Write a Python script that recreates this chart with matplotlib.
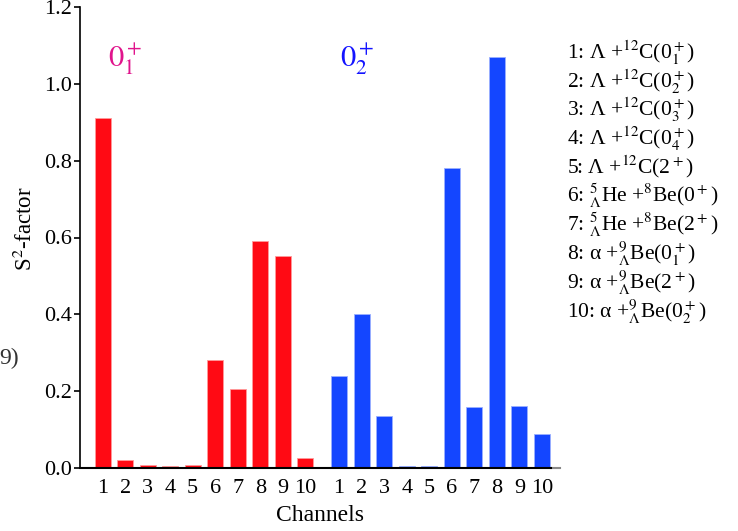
import numpy as np
import matplotlib
matplotlib.use('Agg')
import matplotlib.pyplot as plt

plt.rcParams['font.family'] = ['Liberation Serif', 'DejaVu Serif']
plt.rcParams['mathtext.fontset'] = 'stix'

channels = [str(i) for i in range(1, 11)]
s2_01 = [0.91, 0.021, 0.009, 0.006, 0.007, 0.28, 0.205, 0.59, 0.552, 0.026]
s2_02 = [0.239, 0.40, 0.136, 0.006, 0.006, 0.78, 0.158, 1.07, 0.161, 0.089]
legend_lines = [
    r'1: Λ +$^{12}$C(0$_1^+$)',
    r'2: Λ +$^{12}$C(0$_2^+$)',
    r'3: Λ +$^{12}$C(0$_3^+$)',
    r'4: Λ +$^{12}$C(0$_4^+$)',
    r'5: Λ +$^{12}$C(2$^+$)',
    r'6: ${}^{5}_{\Lambda}$He +$^{8}$Be(0$^+$)',
    r'7: ${}^{5}_{\Lambda}$He +$^{8}$Be(2$^+$)',
    r'8: α +${}^{9}_{\Lambda}$Be(0$_1^+$)',
    r'9: α +${}^{9}_{\Lambda}$Be(2$^+$)',
    r'10: α +${}^{9}_{\Lambda}$Be(0$_2^+$)',
]

red = '#ff0a14'
blue = '#1446ff'

fig = plt.figure(figsize=(7.38, 5.31), dpi=100)
ax = fig.add_axes([80 / 738, 1 - 468 / 531, 480 / 738, 461 / 531])

x1 = np.arange(1, 11)
x2 = x1 + 10.5
ax.bar(x1, s2_01, width=0.71, color=red, edgecolor='#ff9a9a', linewidth=0.6)
ax.bar(x2, s2_02, width=0.71, color=blue, edgecolor='#9ab0ff', linewidth=0.6)

ax.set_xlim(0, 21.3)
ax.set_ylim(0, 1.2)
ax.set_yticks(np.arange(0, 1.21, 0.2))
ax.set_yticklabels(['%.1f' % v for v in np.arange(0, 1.21, 0.2)], va='center_baseline')
ax.set_xticks(np.concatenate([x1, x2]))
ax.set_xticklabels(channels + channels)
ax.tick_params(axis='x', length=0, labelsize=16, pad=8)
ax.tick_params(axis='y', direction='out', length=4.3, width=1.2, labelsize=16, pad=1.5)

for s in ['top', 'right']:
    ax.spines[s].set_visible(False)
ax.spines['left'].set_linewidth(1.2)
ax.spines['bottom'].set_linewidth(1.5)
ax.spines['bottom'].set_bounds(0, 20.9)
ax.plot([20.9, 21.3], [0, 0], color='#888888', lw=1.5, clip_on=False)

ax.set_ylabel(r'S$^2$-factor', fontsize=16.5)
ax.yaxis.set_label_coords(-0.09, 0.52)
ax.set_xlabel('Channels', fontsize=17)
ax.xaxis.set_label_coords(0.5, -0.08)

ax.text(2.0, 1.065, r'$0_1^+$', color='#e0148c', fontsize=22, ha='center', va='center')
ax.text(12.3, 1.065, r'$0_2^+$', color='#1414ff', fontsize=22, ha='center', va='center')

for i, line in enumerate(legend_lines):
    fig.text(567 / 738, 1 - (59 + 28.7 * i) / 531, line, fontsize=15.5, ha='left', va='baseline')

fig.text(19 / 738, 1 - 358 / 531, '9)', fontsize=17, color='#333333', ha='right', va='center')

fig.savefig('out.png', dpi=100)
